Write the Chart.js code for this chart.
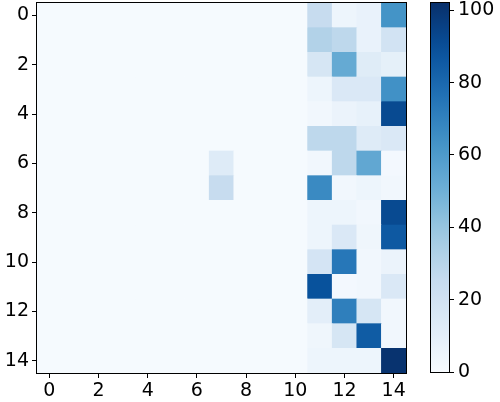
<!DOCTYPE html>
<html>
<head>
<meta charset="utf-8">
<script src="https://cdn.jsdelivr.net/npm/chart.js@4"></script>
<style>
  body { margin: 0; background: #fff; }
  #wrap { position: relative; width: 500px; height: 402px; }
  #heat { position: absolute; left: 0; top: 0; }
  #cbar { position: absolute; left: 420px; top: 0; }
</style>
</head>
<body>
<div id="wrap">
  <canvas id="heat" width="420" height="402"></canvas>
  <canvas id="cbar" width="80" height="402"></canvas>
</div>
<script>
// cell values, row by row (row 0 at top), columns 0..14
const values = [
  [1, 1, 1, 1, 1, 1, 1, 1, 1, 1, 1, 25, 5, 7, 63],
  [1, 1, 1, 1, 1, 1, 1, 1, 1, 1, 1, 32, 28, 7, 19],
  [1, 1, 1, 1, 1, 1, 1, 1, 1, 1, 1, 17, 53, 12, 9],
  [1, 1, 1, 1, 1, 1, 1, 1, 1, 1, 1, 5, 15, 15, 64],
  [1, 1, 1, 1, 1, 1, 1, 1, 1, 1, 1, 3, 6, 8, 92],
  [1, 1, 1, 1, 1, 1, 1, 1, 1, 1, 1, 28, 28, 13, 15],
  [1, 1, 1, 1, 1, 1, 1, 13, 1, 1, 1, 3, 28, 54, 2],
  [1, 1, 1, 1, 1, 1, 1, 25, 1, 1, 1, 67, 3, 5, 3],
  [1, 1, 1, 1, 1, 1, 1, 1, 1, 1, 1, 5, 5, 3, 92],
  [1, 1, 1, 1, 1, 1, 1, 1, 1, 1, 1, 5, 15, 4, 86],
  [1, 1, 1, 1, 1, 1, 1, 1, 1, 1, 1, 18, 74, 3, 6],
  [1, 1, 1, 1, 1, 1, 1, 1, 1, 1, 1, 89, 2, 3, 15],
  [1, 1, 1, 1, 1, 1, 1, 1, 1, 1, 1, 10, 71, 17, 3],
  [1, 1, 1, 1, 1, 1, 1, 1, 1, 1, 1, 4, 17, 85, 3],
  [1, 1, 1, 1, 1, 1, 1, 1, 1, 1, 1, 5, 5, 5, 101]
];
const xTicks = [0, 2, 4, 6, 8, 10, 12, 14];
const yTicks = [0, 2, 4, 6, 8, 10, 12, 14];
const cbarTicks = [0, 20, 40, 60, 80, 100];
const vmin = 0;
const vmax = 102;

// matplotlib "Blues"
const blues = [
  [247, 251, 255], [222, 235, 247], [198, 219, 239], [158, 202, 225],
  [107, 174, 214], [66, 146, 198], [33, 113, 181], [8, 81, 156], [8, 48, 107]
];
function blueAt(t) {
  t = Math.max(0, Math.min(1, t));
  const p = t * (blues.length - 1);
  const i = Math.min(Math.floor(p), blues.length - 2);
  const f = p - i;
  const c = blues[i].map((a, k) => Math.round(a + (blues[i + 1][k] - a) * f));
  return `rgb(${c[0]},${c[1]},${c[2]})`;
}

const FONT = { family: 'DejaVu Sans', size: 19 };
Chart.defaults.color = '#000';
Chart.defaults.font = FONT;

const frame = {
  id: 'frame',
  afterDraw(chart) {
    const a = chart.chartArea;
    const c = chart.ctx;
    c.save();
    c.strokeStyle = '#000';
    c.lineWidth = 1;
    c.strokeRect(Math.round(a.left) - 0.5, Math.round(a.top) - 0.5,
      Math.round(a.right - a.left) + 1, Math.round(a.bottom - a.top) + 1);
    c.restore();
  }
};

// let the labels hang over the edges, as matplotlib does
function noEdgePad(s) {
  s.paddingTop = 0;
  s.paddingBottom = 0;
  s.paddingLeft = 0;
  s.paddingRight = 0;
}

const cells = [];
const colors = [];
values.forEach((row, r) => {
  row.forEach((v, c) => {
    cells.push({ x: c, y: [r - 0.5, r + 0.5] });
    colors.push(blueAt((v - vmin) / (vmax - vmin)));
  });
});

new Chart(document.getElementById('heat'), {
  type: 'bar',
  data: {
    datasets: [{
      data: cells,
      backgroundColor: colors,
      borderWidth: 0,
      barPercentage: 1,
      categoryPercentage: 1
    }]
  },
  options: {
    responsive: false,
    animation: false,
    layout: { padding: { top: 3, right: 14, left: 0, bottom: 0 } },
    plugins: { legend: { display: false }, tooltip: { enabled: false } },
    scales: {
      x: {
        type: 'linear',
        min: -0.5, max: 14.5,
        offset: false,
        afterBuildTicks: (s) => { s.ticks = xTicks.map(v => ({ value: v })); },
        afterFit: (s) => { s.height = 29; noEdgePad(s); },
        grid: { drawOnChartArea: false, offset: false, tickLength: 5, color: '#000' },
        border: { display: false },
        ticks: { padding: 2, maxRotation: 0 }
      },
      y: {
        type: 'linear',
        reverse: true,
        min: -0.5, max: 14.5,
        afterBuildTicks: (s) => { s.ticks = yTicks.map(v => ({ value: v })); },
        afterFit: (s) => { s.width = 37; noEdgePad(s); },
        grid: { drawOnChartArea: false, offset: false, tickLength: 5, color: '#000' },
        border: { display: false },
        ticks: { padding: 3 }
      }
    }
  },
  plugins: [frame]
});

new Chart(document.getElementById('cbar'), {
  type: 'bar',
  data: {
    labels: [''],
    datasets: [{
      data: [[vmin, vmax]],
      borderWidth: 0,
      barPercentage: 1,
      categoryPercentage: 1,
      backgroundColor: (ctx) => {
        const a = ctx.chart.chartArea;
        if (!a) return blueAt(0.5);
        const g = ctx.chart.ctx.createLinearGradient(0, a.bottom, 0, a.top);
        for (let i = 0; i <= 20; i++) g.addColorStop(i / 20, blueAt(i / 20));
        return g;
      }
    }]
  },
  options: {
    responsive: false,
    animation: false,
    layout: { padding: { top: 3, bottom: 30, left: 11, right: 0 } },
    plugins: { legend: { display: false }, tooltip: { enabled: false } },
    scales: {
      x: { display: false },
      y: {
        position: 'right',
        min: vmin, max: vmax,
        afterBuildTicks: (s) => { s.ticks = cbarTicks.map(v => ({ value: v })); },
        afterFit: (s) => { s.width = 51; noEdgePad(s); },
        grid: { drawOnChartArea: false, tickLength: 5, color: '#000' },
        border: { display: false },
        ticks: { padding: 4 }
      }
    }
  },
  plugins: [frame]
});
</script>
</body>
</html>
